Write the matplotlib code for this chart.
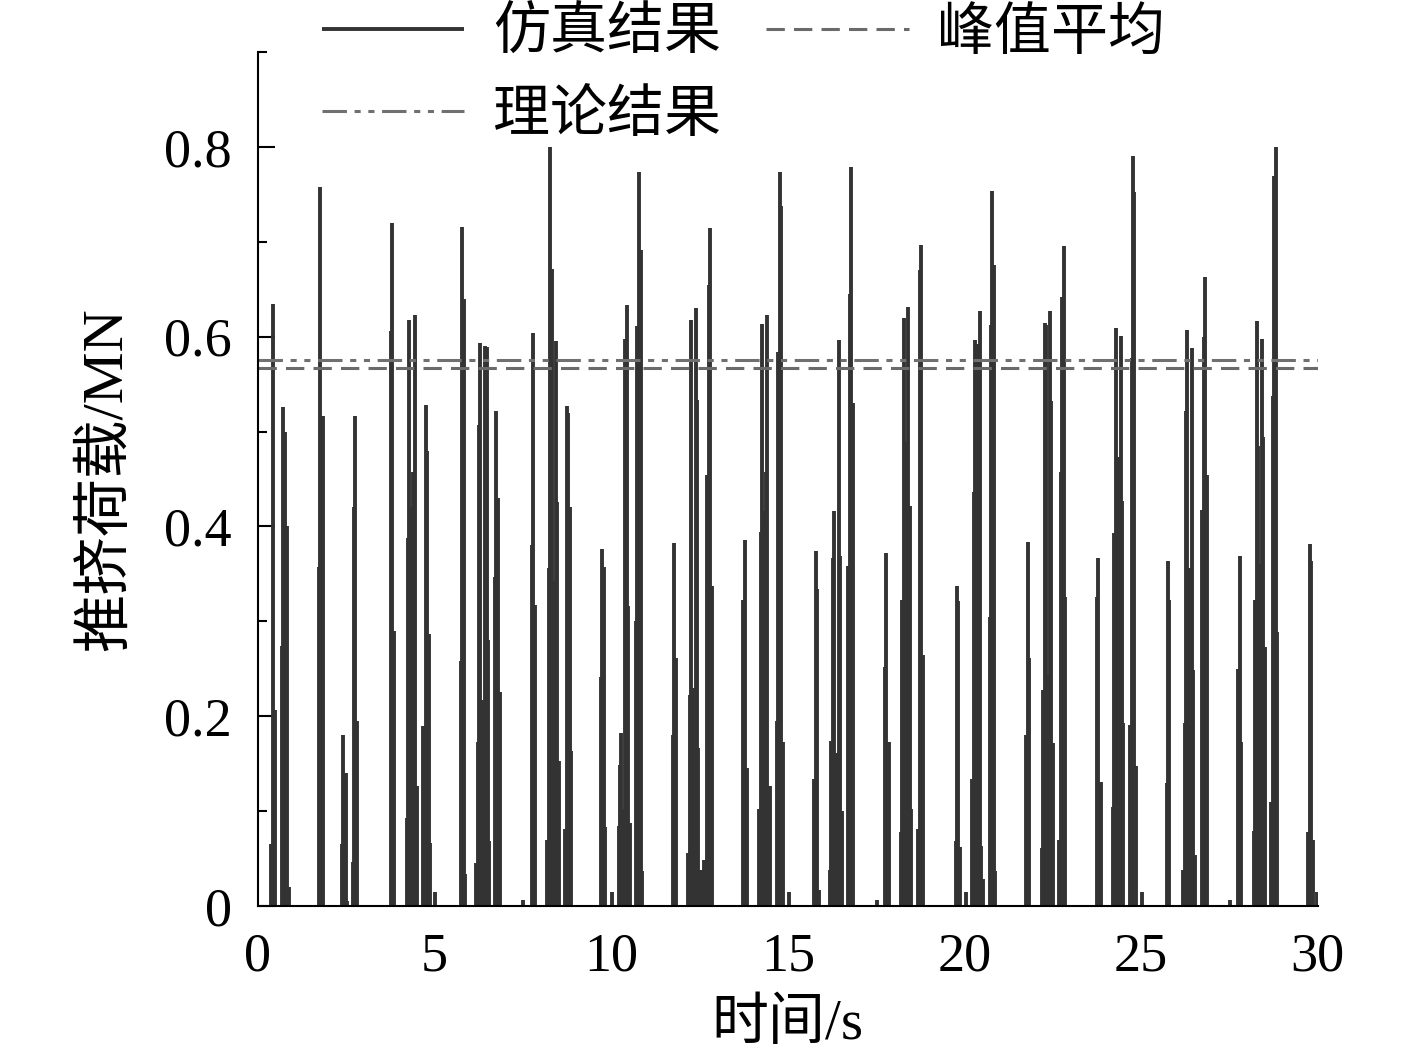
import matplotlib
matplotlib.use("Agg")
import matplotlib.pyplot as plt
from matplotlib.ticker import MultipleLocator, FuncFormatter

plt.rcParams['font.family'] = ['Liberation Serif', 'Noto Sans CJK SC']
plt.rcParams['font.size'] = 39

# spike times (s) and push load (MN)
t_spike = [0.36, 0.43, 0.48, 0.69, 0.72, 0.77, 0.82, 0.87,
           1.73, 1.77, 1.83,
           2.38, 2.42, 2.48, 2.53, 2.68, 2.72, 2.76, 2.81,
           3.76, 3.80, 3.85,
           4.21, 4.25, 4.28, 4.34, 4.38, 4.42, 4.45, 4.49,
           4.68, 4.75, 4.78, 4.83, 4.87, 5.02,
           5.74, 5.78, 5.83, 5.87,
           6.18, 6.23, 6.26, 6.30, 6.35, 6.39, 6.43, 6.48, 6.52, 6.55,
           6.71, 6.75, 6.80, 6.84, 7.51,
           7.76, 7.79, 7.85,
           8.19, 8.23, 8.26, 8.32, 8.36, 8.40, 8.43, 8.48, 8.52,
           8.69, 8.74, 8.79, 8.83, 8.86,
           9.71, 9.75, 9.79, 9.83, 10.01,
           10.21, 10.25, 10.29, 10.34, 10.39, 10.44, 10.48, 10.53,
           10.70, 10.74, 10.78, 10.83, 10.87,
           11.74, 11.77, 11.83,
           12.18, 12.23, 12.27, 12.30, 12.34, 12.39, 12.43, 12.47, 12.51, 12.56, 12.62, 12.66,
           12.70, 12.76, 12.80, 12.84,
           13.74, 13.78, 13.84,
           14.18, 14.23, 14.27, 14.33, 14.37, 14.42, 14.45, 14.50,
           14.69, 14.73, 14.77, 14.82, 14.87, 15.02,
           15.75, 15.79, 15.83, 15.87,
           16.18, 16.23, 16.27, 16.31, 16.36, 16.40, 16.44, 16.48, 16.52,
           16.71, 16.75, 16.78, 16.84, 17.51,
           17.76, 17.79, 17.85,
           18.20, 18.24, 18.28, 18.32, 18.37, 18.41, 18.45, 18.49,
           18.69, 18.74, 18.78, 18.83,
           19.75, 19.78, 19.82, 19.87, 20.03,
           20.22, 20.26, 20.30, 20.35, 20.39, 20.43, 20.48, 20.52,
           20.71, 20.75, 20.78, 20.83, 20.87,
           21.75, 21.79, 21.83,
           22.18, 22.23, 22.27, 22.32, 22.37, 22.42, 22.46, 22.50,
           22.67, 22.72, 22.76, 22.81, 22.85,
           23.76, 23.79, 23.85,
           24.21, 24.24, 24.28, 24.33, 24.37, 24.42, 24.46, 24.50,
           24.68, 24.73, 24.77, 24.81, 24.85, 25.02,
           25.72, 25.76, 25.80,
           26.19, 26.23, 26.27, 26.30, 26.35, 26.40, 26.44, 26.48, 26.53,
           26.72, 26.77, 26.80, 26.85, 27.51,
           27.75, 27.79, 27.84,
           28.19, 28.23, 28.28, 28.32, 28.37, 28.41, 28.46, 28.50,
           28.68, 28.72, 28.76, 28.81, 28.84,
           29.73, 29.78, 29.81, 29.86, 29.98]

f_spike = [0.065, 0.634, 0.207, 0.274, 0.526, 0.50, 0.40, 0.02,
           0.357, 0.758, 0.516,
           0.065, 0.18, 0.14, 0.005, 0.046, 0.42, 0.516, 0.195,
           0.606, 0.72, 0.29,
           0.093, 0.388, 0.618, 0.42, 0.457, 0.394, 0.623, 0.126,
           0.19, 0.528, 0.48, 0.287, 0.066, 0.015,
           0.258, 0.716, 0.64, 0.034,
           0.045, 0.173, 0.507, 0.593, 0.217, 0.157, 0.59, 0.589, 0.28, 0.068,
           0.347, 0.522, 0.43, 0.226, 0.006,
           0.38, 0.604, 0.317,
           0.07, 0.356, 0.80, 0.671, 0.342, 0.326, 0.595, 0.426, 0.153,
           0.081, 0.527, 0.52, 0.42, 0.163,
           0.241, 0.376, 0.357, 0.083, 0.015,
           0.084, 0.149, 0.182, 0.102, 0.598, 0.633, 0.316, 0.088,
           0.30, 0.611, 0.774, 0.691, 0.037,
           0.18, 0.383, 0.261,
           0.056, 0.222, 0.618, 0.094, 0.23, 0.63, 0.533, 0.166, 0.038, 0.038, 0.049, 0.049,
           0.454, 0.654, 0.715, 0.337,
           0.323, 0.386, 0.145,
           0.102, 0.394, 0.613, 0.416, 0.457, 0.623, 0.127, 0.127,
           0.195, 0.584, 0.774, 0.738, 0.173, 0.015,
           0.134, 0.374, 0.334, 0.017,
           0.038, 0.174, 0.367, 0.416, 0.15, 0.161, 0.596, 0.369, 0.10,
           0.358, 0.645, 0.779, 0.53, 0.006,
           0.252, 0.372, 0.173,
           0.078, 0.323, 0.62, 0.489, 0.364, 0.631, 0.422, 0.102,
           0.081, 0.67, 0.697, 0.264,
           0.068, 0.337, 0.321, 0.062, 0.015,
           0.134, 0.436, 0.596, 0.345, 0.592, 0.627, 0.063, 0.028,
           0.305, 0.612, 0.754, 0.675, 0.037,
           0.18, 0.384, 0.261,
           0.061, 0.228, 0.614, 0.612, 0.243, 0.627, 0.532, 0.172,
           0.07, 0.457, 0.642, 0.696, 0.326,
           0.326, 0.367, 0.131,
           0.104, 0.393, 0.609, 0.405, 0.473, 0.601, 0.427, 0.193,
           0.191, 0.578, 0.79, 0.752, 0.148, 0.015,
           0.13, 0.364, 0.323,
           0.038, 0.193, 0.522, 0.607, 0.356, 0.168, 0.588, 0.249, 0.054,
           0.417, 0.60, 0.663, 0.454, 0.006,
           0.25, 0.369, 0.173,
           0.079, 0.323, 0.616, 0.485, 0.36, 0.598, 0.494, 0.273,
           0.11, 0.537, 0.769, 0.80, 0.289,
           0.078, 0.382, 0.364, 0.07, 0.015]

peak_mean = 0.567
theory = 0.575

fig = plt.figure(figsize=(14.17, 10.54), dpi=100)
ax = fig.add_axes([0.182, 0.1404, 0.748, 0.8103])

ax.vlines(t_spike, 0, f_spike, colors="#333333", linewidth=2.8, label="仿真结果")
ax.axhline(theory, color="#707070", linewidth=2.2, dashes=[8, 2.5, 2, 2.5, 2, 2.5],
           label="理论结果")
ax.axhline(peak_mean, color="#6a6a6a", linewidth=2.2, dashes=[6, 3], label="峰值平均")

ax.set_xlim(0, 30)
ax.set_ylim(0, 0.9)
ax.xaxis.set_major_locator(MultipleLocator(5))
ax.yaxis.set_major_locator(MultipleLocator(0.2))
ax.yaxis.set_minor_locator(MultipleLocator(0.1))
ax.yaxis.set_major_formatter(FuncFormatter(lambda v, p: "0" if v == 0 else "%.1f" % v))
ax.tick_params(axis="x", length=0, pad=19)
ax.tick_params(axis="y", which="major", direction="in", length=12, width=1.5, pad=19)
ax.tick_params(axis="y", which="minor", direction="in", length=6.5, width=1.5)

for side in ["top", "right"]:
    ax.spines[side].set_visible(False)
for side in ["left", "bottom"]:
    ax.spines[side].set_linewidth(1.5)

ax.set_xlabel("时间/s", labelpad=11, fontsize=41)
ax.set_ylabel("推挤荷载/MN", labelpad=22, fontsize=42)

fig.legend(loc="upper left", bbox_to_anchor=(0.191, 1.041), ncol=2, frameon=False,
           fontsize=41, handlelength=2.5, handletextpad=0.5, columnspacing=0.8,
           labelspacing=0.5)

fig.savefig("out.png", dpi=100)
